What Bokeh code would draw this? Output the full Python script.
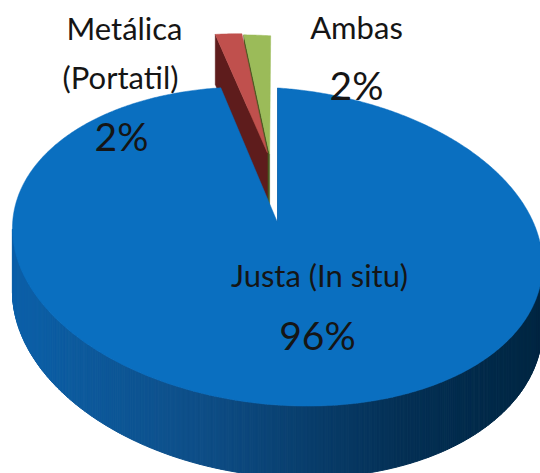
import numpy as np
from bokeh.plotting import figure
from bokeh.models import Range1d
from bokeh.embed import file_html
from bokeh.resources import INLINE
from bokeh.core.properties import value

# ---------------- data ----------------
categories = ["Justa (In situ)", "Metálica (Portatil)", "Ambas"]
values = [96, 2, 2]
label_lines = [["Justa (In situ)"], ["Metálica", "(Portatil)"], ["Ambas"]]

# ---------------- style ----------------
top_colors = ["#0a6fc0", "#c0504d", "#9bbb59"]
face_colors = ["#0a3f73", "#5e1c1c", "#46591f"]
explode = [0.0, 0.48, 0.47]          # disk units
explode_dir = [0.0, -8.5, -7.5]      # degrees, clockwise from far side
label_pos = [[(319, 274), (317, 334)],
             [(124, 27), (120, 76), (121, 135)],
             [(356, 26), (356, 84)]]
LABEL_SIZE = "31px"
PCT_SIZE = "39px"
FONT = "Lato"

# projection of the disk (screen pixel coordinates of the reference)
CX, CY, A, B, TILT = 277.0, 246.0, 266.0, 158.0, np.radians(6.0)
APEX = (277.0, 222.0)
H0 = 61.0

# inverse ellipse map of apex -> boost parameters
dx, dy = APEX[0] - CX, APEX[1] - CY
ex = dx * np.cos(TILT) + dy * np.sin(TILT)
ey = -dx * np.sin(TILT) + dy * np.cos(TILT)
q = np.array([ex / A, -ey / B])
qn = np.linalg.norm(q)
NX, NY = q / qn
BETA = np.arctanh(qn)
CH, SH = np.cosh(BETA), np.sinh(BETA)


def to_screen(px, py, z):
    px = np.asarray(px, float)
    py = np.asarray(py, float)
    par = px * NX + py * NY
    perx, pery = px - par * NX, py - par * NY
    t = par * SH + CH
    par2 = par * CH + SH
    X = (par2 * NX + perx) / t
    Y = (par2 * NY + pery) / t
    sx = CX + A * X * np.cos(TILT) + B * Y * np.sin(TILT)
    sy = CY + A * X * np.sin(TILT) - B * Y * np.cos(TILT)
    sy = sy + z * H0 * CH / t
    return sx, sy


# start angle: blue slice's first edge vertical above the apex
th = np.radians(np.linspace(-60, 60, 2401))
sxs, _ = to_screen(np.sin(th), np.cos(th), 0)
TH0 = th[np.argmin(np.abs(sxs - APEX[0]))]

total = float(sum(values))
spans = [v / total * 2 * np.pi for v in values]
starts = TH0 + np.concatenate([[0], np.cumsum(spans)[:-1]])

p = figure(width=540, height=473, x_range=Range1d(0, 540), y_range=Range1d(473, 0),
           output_backend="svg", toolbar_location=None, min_border=0)
p.axis.visible = False
p.grid.visible = False
p.outline_line_color = None
p.background_fill_color = "white"
p.border_fill_color = "white"

side_stops_x = [15, 200, 400, 540]
side_stops_c = np.array([[12, 96, 168], [14, 78, 135], [4, 48, 85], [0, 38, 66]], float)


def side_color(x):
    c = [np.interp(x, side_stops_x, side_stops_c[:, k]) for k in range(3)]
    return "#%02x%02x%02x" % tuple(int(round(v)) for v in c)


def draw_slice(i):
    s, e = starts[i], starts[i] + spans[i]
    d = np.radians(explode_dir[i])
    ox, oy = explode[i] * np.sin(d), explode[i] * np.cos(d)
    n = max(4, int(np.degrees(spans[i]) * 2))
    a = np.linspace(s, e, n + 1)
    rx, ry = ox + np.sin(a), oy + np.cos(a)
    tx, ty = to_screen(rx, ry, 0)
    bx, by = to_screen(rx, ry, 1)
    acx, acy = to_screen(ox, oy, 0)
    abx, aby = to_screen(ox, oy, 1)
    # outer wall strips (visible ones only)
    xs, ys, cols = [], [], []
    for k in range(n):
        if tx[k + 1] < tx[k]:
            xs.append([tx[k], tx[k + 1], bx[k + 1], bx[k]])
            ys.append([ty[k], ty[k + 1], by[k + 1], by[k]])
            mx = 0.5 * (tx[k] + tx[k + 1])
            cols.append(side_color(mx) if i == 0 else face_colors[i])
    if xs:
        p.patches(xs, ys, fill_color=cols, line_color=cols, line_width=1)
    # start cut face
    nrm = (-np.cos(s), np.sin(s))
    cam = (0.0, -6.0)
    if nrm[0] * (cam[0] - ox) + nrm[1] * (cam[1] - oy) > 0:
        p.patch([acx, tx[0], bx[0], abx], [acy, ty[0], by[0], aby],
                fill_color=face_colors[i], line_color=face_colors[i], line_width=0.5)
    # top face
    p.patch(np.concatenate([[acx], tx]), np.concatenate([[acy], ty]),
            fill_color=top_colors[i], line_color=top_colors[i], line_width=0.5)


for i in [2, 1, 0]:
    draw_slice(i)

# labels
for i in range(len(values)):
    pct = "%d%%" % round(values[i] / total * 100)
    lines = label_lines[i] + [pct]
    for j, txt in enumerate(lines):
        x, y = label_pos[i][j]
        size = PCT_SIZE if j == len(lines) - 1 else LABEL_SIZE
        p.text(x=[x], y=[y], text=[txt], text_font=value(FONT), text_font_size=value(size),
               text_align="center", text_baseline="alphabetic", text_color="#151515")

open("out.html", "w").write(file_html(p, INLINE))
